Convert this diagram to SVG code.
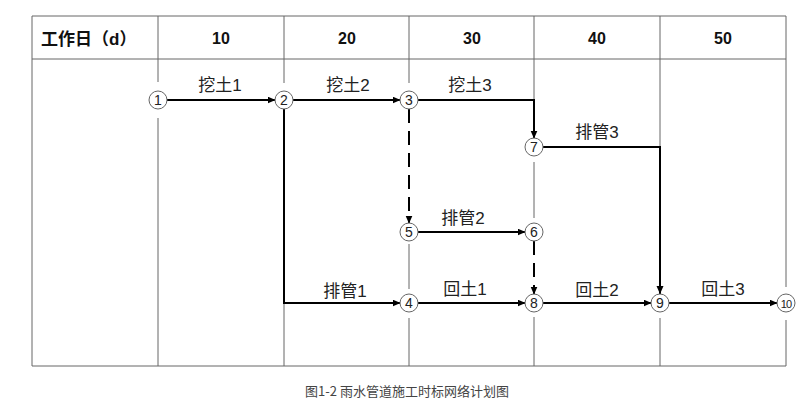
<svg xmlns="http://www.w3.org/2000/svg" width="800" height="407" viewBox="0 0 800 407">
<style>
.grid{stroke:#666;stroke-width:1;fill:none}
.hd{font-family:"Liberation Sans","Noto Sans CJK SC",sans-serif;font-weight:bold;font-size:16px;fill:#111}
.lb{font-family:"Liberation Sans","Noto Sans CJK SC",sans-serif;font-size:17px;fill:#222;text-anchor:middle}
.nc{fill:#fff;stroke:#666;stroke-width:1}
.nt{font-family:"Liberation Sans",sans-serif;font-size:14px;fill:#222;text-anchor:middle}
.e{stroke:#000;stroke-width:2;fill:none}
.d{stroke-dasharray:14 8}
.cap{font-family:"Noto Sans CJK SC",sans-serif;font-size:13px;fill:#444;text-anchor:middle}
</style>
<defs>
<marker id="ah" markerUnits="userSpaceOnUse" markerWidth="9" markerHeight="8" refX="8" refY="3.5" orient="auto">
<path d="M0,0 L8,3.5 L0,7 z" fill="#000"/>
</marker>
</defs>
<rect width="800" height="407" fill="#fff"/>
<g id="grid" class="grid">
<path d="M32,16 H786 M32,59 H786 M32,366 H786 M32,16 V366"/>
<path d="M158,16 V59 M284,16 V59 M409,16 V59 M534,16 V59 M660,16 V59 M786,16 V59"/>
<path d="M158,59 V82 M158,118 V366"/>
<path d="M284,59 V83 M284,116 V366"/>
<path d="M409,59 V83 M409,244 V289 M409,318 V366"/>
<path d="M534,59 V100 M534,162 V218 M534,317 V366"/>
<path d="M660,59 V147 M660,318 V366"/>
<path d="M786,59 V287 M786,320 V366"/>
</g>
<g id="header">
<text class="hd" x="41" y="45" style="font-size:17px">工作日（d）</text>
<text class="hd" x="221" y="44" text-anchor="middle">10</text>
<text class="hd" x="347" y="44" text-anchor="middle">20</text>
<text class="hd" x="472" y="44" text-anchor="middle">30</text>
<text class="hd" x="597" y="44" text-anchor="middle">40</text>
<text class="hd" x="723" y="44" text-anchor="middle">50</text>
</g>
<g id="connectors">
<path class="e" d="M167,100 H275.5" marker-end="url(#ah)"/>
<path class="e" d="M293,100 H400.5" marker-end="url(#ah)"/>
<path class="e" d="M418,100 H534 V138.5" marker-end="url(#ah)"/>
<path class="e" d="M543,147 H660 V294" marker-end="url(#ah)"/>
<path class="e" d="M284,109 V303 H400.5" marker-end="url(#ah)"/>
<path class="e d" d="M409,109 V223.5" marker-end="url(#ah)"/>
<path class="e" d="M418,232 H525.5" marker-end="url(#ah)"/>
<path class="e d" d="M534,241 V294.5" marker-end="url(#ah)"/>
<path class="e" d="M418,303 H525.5" marker-end="url(#ah)"/>
<path class="e" d="M543,303 H651.5" marker-end="url(#ah)"/>
<path class="e" d="M669,303 H777.5" marker-end="url(#ah)"/>
<text class="lb" x="220" y="91">挖土1</text>
<text class="lb" x="348" y="91">挖土2</text>
<text class="lb" x="470" y="91">挖土3</text>
<text class="lb" x="597" y="138">排管3</text>
<text class="lb" x="463" y="224">排管2</text>
<text class="lb" x="345" y="297">排管1</text>
<text class="lb" x="465" y="295">回土1</text>
<text class="lb" x="597" y="296">回土2</text>
<text class="lb" x="723" y="295">回土3</text>
</g>
<g id="n1"><circle class="nc" cx="158" cy="100" r="9"/><text class="nt" x="158" y="105">1</text></g>
<g id="n2"><circle class="nc" cx="284" cy="100" r="9"/><text class="nt" x="284" y="105">2</text></g>
<g id="n3"><circle class="nc" cx="409" cy="100" r="9"/><text class="nt" x="409" y="105">3</text></g>
<g id="n7"><circle class="nc" cx="534" cy="147" r="9"/><text class="nt" x="534" y="152">7</text></g>
<g id="n5"><circle class="nc" cx="409" cy="232" r="9"/><text class="nt" x="409" y="237">5</text></g>
<g id="n6"><circle class="nc" cx="534" cy="232" r="9"/><text class="nt" x="534" y="237">6</text></g>
<g id="n4"><circle class="nc" cx="409" cy="303" r="9"/><text class="nt" x="409" y="308">4</text></g>
<g id="n8"><circle class="nc" cx="534" cy="303" r="9"/><text class="nt" x="534" y="308">8</text></g>
<g id="n9"><circle class="nc" cx="660" cy="303" r="9"/><text class="nt" x="660" y="308">9</text></g>
<g id="n10"><circle class="nc" cx="786" cy="303" r="9"/><text class="nt" x="786" y="307.5" style="font-size:11px;letter-spacing:-0.8px">10</text></g>
<text class="cap" x="407" y="396">图1-2 雨水管道施工时标网络计划图</text>
</svg>
